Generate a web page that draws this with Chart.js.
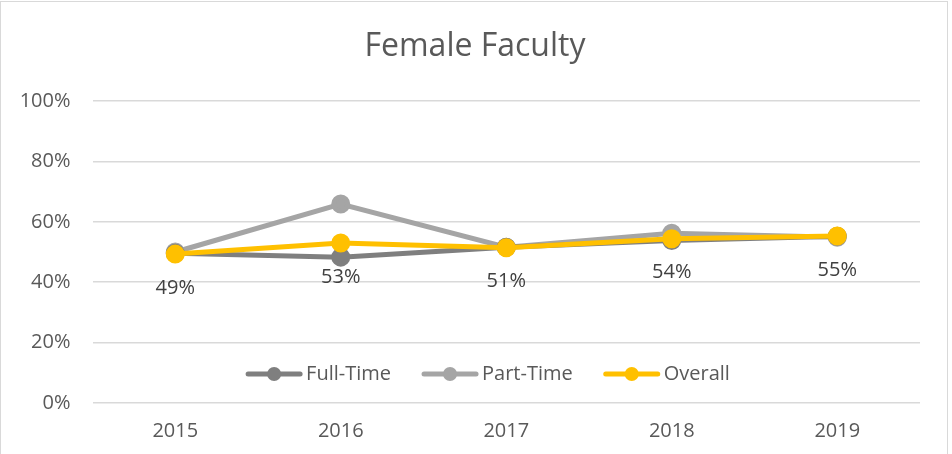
<!DOCTYPE html>
<html>
<head>
<meta charset="utf-8">
<script src="https://cdn.jsdelivr.net/npm/chart.js@4"></script>
<style>
html,body{margin:0;padding:0;background:#fff;}
#wrap{position:absolute;left:0;top:0;width:952px;height:454px;}
#frame{position:absolute;left:0;top:1px;width:948px;height:470px;border:1px solid #d9d9d9;box-sizing:border-box;pointer-events:none;}
canvas{display:block;}
</style>
</head>
<body>
<div id="wrap"><canvas id="c" width="952" height="454"></canvas><div id="frame"></div></div>
<script>
const titleText = 'Female Faculty';
const categories = ['2015','2016','2017','2018','2019'];
const fullTime = [49.6, 48.3, 51.6, 53.8, 55.2];
const partTime = [50.0, 65.9, 51.6, 56.2, 54.9];
const overall  = [49.3, 53.0, 51.4, 54.4, 55.3];
const overallLabels = ['49%','53%','51%','54%','55%'];
const yTicks = [0, 20, 40, 60, 80, 100];

const FONT = '"Open Sans", sans-serif';
const TXT = '#595959';

const titlePlugin = {
  id: 'titleDraw',
  afterDraw(chart) {
    const ctx = chart.ctx;
    ctx.save();
    ctx.font = '32px ' + FONT;
    ctx.fillStyle = TXT;
    ctx.textAlign = 'center';
    ctx.textBaseline = 'middle';
    ctx.fillText(titleText, 475, 47);
    ctx.restore();
  }
};

const labelPlugin = {
  id: 'dataLabels',
  afterDatasetsDraw(chart) {
    const ctx = chart.ctx;
    const idx = chart.data.datasets.findIndex(d => d.label === 'Overall');
    const meta = chart.getDatasetMeta(idx);
    ctx.save();
    ctx.font = '20px ' + FONT;
    ctx.fillStyle = '#404040';
    ctx.textAlign = 'center';
    ctx.textBaseline = 'middle';
    meta.data.forEach((pt, i) => {
      ctx.fillText(overallLabels[i], pt.x, pt.y + 34);
    });
    ctx.restore();
  }
};

const legendPlugin = {
  id: 'legendDraw',
  afterDraw(chart) {
    const ctx = chart.ctx;
    const items = chart.data.datasets.map(d => ({label: d.label, color: d.borderColor, legendIndex: d.legendIndex}))
      .sort((a,b) => a.legendIndex - b.legendIndex);
    ctx.save();
    ctx.font = '20px ' + FONT;
    const lineLen = 56, gapText = 4, gapItem = 31;
    let total = 0;
    items.forEach((it, i) => {
      it.w = ctx.measureText(it.label).width;
      total += lineLen + gapText + it.w + (i < items.length - 1 ? gapItem : 0);
    });
    let x = 488 - total / 2;
    const y = 374;
    items.forEach(it => {
      ctx.strokeStyle = it.color;
      ctx.lineWidth = 5;
      ctx.lineCap = 'round';
      ctx.beginPath();
      ctx.moveTo(x + 2, y);
      ctx.lineTo(x + lineLen - 2, y);
      ctx.stroke();
      ctx.fillStyle = it.color;
      ctx.beginPath();
      ctx.arc(x + lineLen / 2, y, 7, 0, Math.PI * 2);
      ctx.fill();
      ctx.fillStyle = TXT;
      ctx.textAlign = 'left';
      ctx.textBaseline = 'middle';
      ctx.fillText(it.label, x + lineLen + gapText, y);
      x += lineLen + gapText + it.w + gapItem;
    });
    ctx.restore();
  }
};

function ds(label, data, color, order, legendIndex) {
  return {
    label, data,
    borderColor: color, backgroundColor: color,
    pointBackgroundColor: color, pointBorderColor: color,
    borderWidth: 5, pointRadius: 7, pointHoverRadius: 7,
    tension: 0, order, legendIndex
  };
}

new Chart(document.getElementById('c'), {
  type: 'line',
  data: {
    labels: categories,
    datasets: [
      ds('Full-Time', fullTime, '#7f7f7f', 2, 0),
      ds('Part-Time', partTime, '#a5a5a5', 3, 1),
      ds('Overall', overall, '#ffc000', 1, 2)
    ]
  },
  options: {
    responsive: false,
    animation: false,
    events: [],
    layout: { padding: { top: 101, left: 0, right: 32, bottom: 0 } },
    plugins: { legend: { display: false }, title: { display: false }, tooltip: { enabled: false } },
    scales: {
      x: {
        offset: true,
        grid: { display: false },
        border: { display: false },
        ticks: { color: TXT, font: { family: FONT, size: 20 }, padding: 8 },
        afterFit(s) { s.height = 51; }
      },
      y: {
        min: 0, max: 100,
        afterBuildTicks(s) { s.ticks = yTicks.map(v => ({ value: v })); },
        grid: { color: '#d9d9d9', lineWidth: 1.5, drawTicks: false },
        border: { display: false },
        ticks: { color: TXT, font: { family: FONT, size: 20 }, padding: 22, callback: v => v + '%' },
        afterFit(s) { s.width = 92.5; }
      }
    }
  },
  plugins: [titlePlugin, labelPlugin, legendPlugin]
});
</script>
</body>
</html>
